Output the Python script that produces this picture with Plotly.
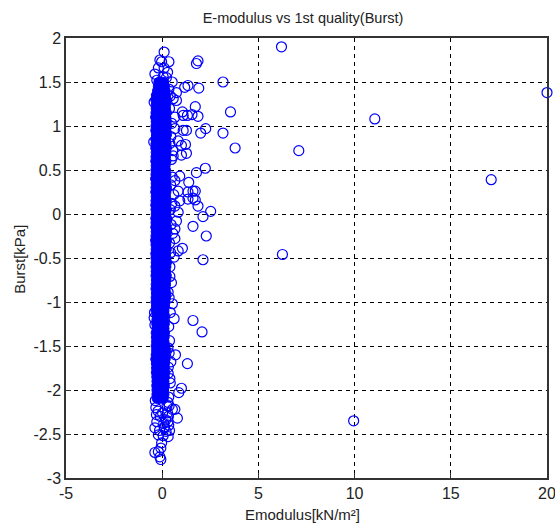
import plotly.graph_objects as go

x_tick_values = [-5, 0, 5, 10, 15, 20]
x_tick_labels = ["-5", "0", "5", "10", "15", "20"]
y_tick_values = [-3, -2.5, -2, -1.5, -1, -0.5, 0, 0.5, 1, 1.5, 2]
y_tick_labels = ["-3", "-2.5", "-2", "-1.5", "-1", "-0.5", "0", "0.5", "1", "1.5", "2"]

# Individually readable circles
ring_x = [0.1, 0.35, -0.03, -0.12, 0.28, -0.38, 0.52, 1.86, 1.78, 3.16, 1.17, 1.34, 1.9, 0.74, 0.74, 0.57,
          1.72, 3.55, 1.05, 1.09, 1.31, 1.55, 1.86, 0.66, 2.26, 2.0, 3.16, 1.26, 1.09, 0.66, 3.79, 1.21,
          1.0, 1.26, 1.0, 0.57, 0.83, 2.24, 1.78, 0.91, 0.66, 1.38, 0.83, 1.6, 1.34, 1.72, 1.6, 1.34,
          1.72, 0.91, 1.86, 0.66, 2.52, 2.12, 0.83, 0.74, 1.6, 2.29, 0.66, 0.66, 1.05, 0.83, 0.62, 2.12,
          0.4, 0.31, 0.53, 0.62, 1.6, 2.07, 0.69, 0.45, 1.31, 0.31, 0.4, 1.0, 0.86, 0.66, 0.53, 0.79,
          0.31, 0.1, -0.38, -0.2, 0.05, -0.03, -0.07, -0.2, -0.38, -0.12, -0.07,
          6.2, 11.05, 7.1, 20.0, 17.1, 6.25, 9.95]
ring_y = [1.84, 1.73, 1.73, 1.75, 1.61, 1.59, 1.5, 1.74, 1.71, 1.5, 1.44, 1.46, 1.43, 1.38, 1.29, 1.31,
          1.22, 1.16, 1.16, 1.12, 1.12, 1.13, 1.11, 1.1, 0.97, 0.92, 0.92, 0.95, 0.95, 0.97, 0.75, 0.79,
          0.78, 0.69, 0.67, 0.66, 0.83, 0.52, 0.47, 0.43, 0.38, 0.36, 0.26, 0.26, 0.25, 0.26, 0.18, 0.17,
          0.16, 0.15, 0.09, 0.09, 0.03, -0.03, 0.02, -0.08, -0.14, -0.25, -0.17, -0.28, -0.39, -0.42, -0.49, -0.52,
          -0.71, -0.89, -1.02, -1.19, -1.21, -1.34, -1.6, -1.68, -1.7, -1.81, -1.87, -1.98, -2.03, -2.22, -2.22, -2.32,
          -2.53, -2.43, -2.43, -2.51, -2.52, -2.6, -2.66, -2.7, -2.71, -2.76, -2.79,
          1.9, 1.08, 0.72, 1.38, 0.39, -0.46, -2.35]

# Circles crowding the edges of the dense column
edge_x = [-0.2, 0.1, 0.22, -0.28, 0.05, 0.35, 0.42, 0.38, 0.5, 0.45, 0.4, 0.55, 0.48, 0.52, 0.44, 0.6,
          0.5, 0.42, 0.46, 0.55, 0.38, 0.44, 0.4, 0.48, 0.36, 0.42, 0.34, 0.38, 0.3, 0.36, 0.32, 0.42,
          0.34, 0.3, 0.36, 0.28, 0.32, 0.3, 0.34, 0.38, -0.42, -0.44, -0.4, -0.42, -0.38, -0.36, -0.33, -0.3,
          -0.22, -0.1, 0.02, 0.18, 0.25, 0.12, -0.28, -0.14, 0.08, 0.2]
edge_y = [1.66, 1.66, 1.55, 1.52, 1.56, 1.42, 1.34, 1.2, 1.03, 0.88, 0.8, 0.72, 0.62, 0.42, 0.33, 0.22,
          0.12, 0.05, -0.12, -0.22, -0.33, -0.44, -0.6, -0.78, -0.95, -1.12, -1.28, -1.44, -1.52, -1.58, -1.74, -1.92,
          -2.08, -2.14, -2.18, -2.26, -2.3, -2.36, -2.4, -2.46, 1.27, 0.82, -1.12, -1.18, -1.26, -2.12, -2.2, -2.28,
          -2.24, -2.3, -2.26, -2.34, -2.18, -2.42, -2.36, -2.46, -2.38, -2.47]

# Dense column, where circles overlap into a solid band
core_y = [1.5, 1.45, 1.4, 1.35, 1.3, 1.25, 1.2, 1.15, 1.1, 1.05, 1.0, 0.95, 0.9, 0.85,
          0.8, 0.75, 0.7, 0.65, 0.6, 0.55, 0.5, 0.45, 0.4, 0.35, 0.3, 0.25, 0.2, 0.15, 0.1, 0.05,
          0.0, -0.05, -0.1, -0.15, -0.2, -0.25, -0.3, -0.35, -0.4, -0.45, -0.5, -0.55, -0.6, -0.65, -0.7, -0.75,
          -0.8, -0.85, -0.9, -0.95, -1.0, -1.05, -1.1, -1.15, -1.2, -1.25, -1.3, -1.35, -1.4, -1.45, -1.5, -1.55,
          -1.6, -1.65, -1.7, -1.75, -1.8, -1.85, -1.9, -1.95, -2.0, -2.05, -2.1]
core_left = [-0.2, -0.23, -0.27, -0.33, -0.36, -0.33, -0.34, -0.35, -0.37, -0.34, -0.35, -0.36, -0.33, -0.36,
             -0.35, -0.36, -0.34, -0.35, -0.36, -0.34, -0.35, -0.35, -0.37, -0.34, -0.35, -0.36, -0.34, -0.35, -0.36, -0.35,
             -0.34, -0.36, -0.35, -0.36, -0.34, -0.35, -0.37, -0.35, -0.34, -0.36, -0.35, -0.34, -0.35, -0.34, -0.35, -0.33,
             -0.34, -0.35, -0.33, -0.34, -0.35, -0.33, -0.34, -0.3, -0.3, -0.31, -0.3, -0.34, -0.33, -0.32, -0.34, -0.32,
             -0.34, -0.36, -0.33, -0.32, -0.33, -0.31, -0.3, -0.31, -0.3, -0.3, -0.28]
core_mid = [-0.05, -0.06, -0.06, -0.06, -0.07, -0.06, -0.07, -0.06, -0.07, -0.06, -0.06, -0.07, -0.06, -0.07,
            -0.06, -0.07, -0.06, -0.06, -0.07, -0.06, -0.07, -0.06, -0.07, -0.06, -0.06, -0.07, -0.06, -0.07, -0.06, -0.06,
            -0.07, -0.06, -0.07, -0.06, -0.07, -0.06, -0.06, -0.07, -0.06, -0.07, -0.06, -0.06, -0.07, -0.06, -0.07, -0.06,
            -0.07, -0.06, -0.07, -0.08, -0.07, -0.08, -0.08, -0.09, -0.08, -0.08, -0.09, -0.08, -0.08, -0.09, -0.08, -0.08,
            -0.09, -0.08, -0.09, -0.08, -0.09, -0.08, -0.08, -0.09, -0.08, -0.09, -0.08]
core_right = [0.1, 0.14, 0.18, 0.2, 0.24, 0.22, 0.2, 0.25, 0.22, 0.24, 0.26, 0.22, 0.25, 0.2,
              0.23, 0.25, 0.22, 0.2, 0.22, 0.18, 0.2, 0.22, 0.18, 0.2, 0.25, 0.22, 0.2, 0.24, 0.22, 0.25,
              0.22, 0.26, 0.2, 0.24, 0.26, 0.22, 0.25, 0.22, 0.24, 0.2, 0.23, 0.25, 0.22, 0.2, 0.24, 0.22,
              0.2, 0.18, 0.22, 0.2, 0.18, 0.15, 0.12, 0.14, 0.1, 0.14, 0.12, 0.15, 0.13, 0.12, 0.18, 0.2,
              0.16, 0.18, 0.15, 0.14, 0.16, 0.14, 0.12, 0.14, 0.1, 0.12, 0.08]

BLUE = "#0000ff"
FONT = "Liberation Sans, Arial, sans-serif"
fig = go.Figure()
fig.add_trace(go.Scatter(
    x=core_left + core_mid + core_right,
    y=core_y + core_y + core_y,
    mode="markers", cliponaxis=False, hoverinfo="skip",
    marker=dict(symbol="circle", size=9, color=BLUE, line=dict(color=BLUE, width=1)),
))
fig.add_trace(go.Scatter(
    x=ring_x + edge_x, y=ring_y + edge_y, mode="markers", cliponaxis=False,
    marker=dict(symbol="circle-open", size=10, color=BLUE, line=dict(color=BLUE, width=1.2)),
))

axis_common = dict(
    automargin=False, ticklabeloverflow="allow",
    showgrid=True, gridcolor="#000000", griddash="4px,4px", gridwidth=1.2,
    zeroline=False, showline=True, linecolor="#333333", linewidth=1.5, mirror=True,
    ticks="inside", ticklen=5, tickcolor="#333333", tickwidth=1,
    tickfont=dict(family=FONT, size=16, color="#222222"),
    tickmode="array",
)
fig.update_layout(
    width=555, height=529, autosize=False, showlegend=False,
    paper_bgcolor="#ffffff", plot_bgcolor="#ffffff",
    margin=dict(l=65.5, r=8, t=37.5, b=51),
    title=dict(text="E-modulus vs 1st quality(Burst)", x=0.546, xanchor="center", y=0.966, yanchor="middle",
               font=dict(family=FONT, size=14.5, color="#222222")),
    xaxis=dict(range=[-5, 20], tickvals=x_tick_values, ticktext=x_tick_labels, **axis_common),
    yaxis=dict(range=[-3, 2], tickvals=y_tick_values, ticktext=y_tick_labels, **axis_common),
    annotations=[
        dict(text="Emodulus[kN/m²]", xref="paper", yref="paper", x=0.491, y=-0.082,
             xanchor="center", yanchor="middle", showarrow=False,
             font=dict(family=FONT, size=15, color="#222222")),
        dict(text="Burst[kPa]", xref="paper", yref="paper", x=-0.0966, y=0.497, textangle=-90,
             xanchor="center", yanchor="middle", showarrow=False,
             font=dict(family=FONT, size=15, color="#222222")),
    ],
)
fig.write_html("out.html", post_script="document.body.style.margin='0';",
               config=dict(displayModeBar=False))
